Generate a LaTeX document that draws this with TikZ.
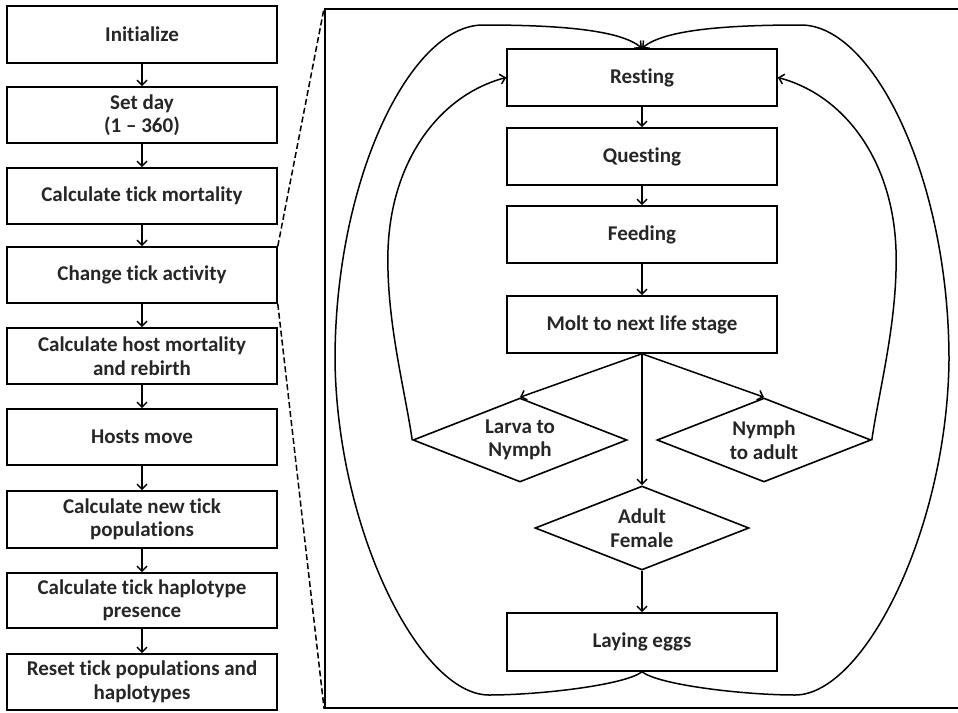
\documentclass[tikz,border=0pt]{standalone}
\usepackage{fontspec}
\setmainfont[Ligatures=NoCommon]{Carlito}
\usetikzlibrary{arrows.meta,shapes.geometric}
\begin{document}
\begin{tikzpicture}[x=1pt,y=-1pt,
  txt/.style={font=\fontsize{21}{23.5}\selectfont\bfseries, text=black!85},
  box/.style={txt, draw, line width=1.6pt, minimum width=270pt, inner sep=0pt, align=center},
  dia/.style={txt, draw, diamond, line width=1.6pt, minimum width=214pt, minimum height=84pt, inner sep=0pt, aspect=2.55, align=center},
  arr/.style={line width=1.5pt, -{Straight Barb[length=5pt,width=10pt]}},
  loop/.style={line width=1.5pt, -{Straight Barb[length=5pt,width=10pt]}},
  ]
\useasboundingbox (0,0) rectangle (958,712);
% left column
\node[box, minimum height=57pt] (b1) at (142,34.5) {Initialize};
\node[box, minimum height=56pt] (b2) at (142,115) {Set day\\(1 – 360)};
\node[box, minimum height=56pt] (b3) at (142,196) {Calculate tick mortality};
\node[box, minimum height=56pt] (b4) at (142,275) {Change tick activity};
\node[box, minimum height=56pt] (b5) at (142,356) {Calculate host mortality\\and rebirth};
\node[box, minimum height=56pt] (b6) at (142,437) {Hosts move};
\node[box, minimum height=57pt] (b7) at (142,519.5) {Calculate new tick\\populations};
\node[box, minimum height=55pt] (b8) at (142,600.5) {Calculate tick haplotype\\presence};
\node[box, minimum height=56pt] (b9) at (142,682) {Reset tick populations and\\haplotypes};
\foreach \a/\b in {b1/b2,b2/b3,b3/b4,b4/b5,b5/b6,b6/b7,b7/b8,b8/b9}
  \draw[arr] (\a.south) -- (\b.north);
% frame
\node[draw, line width=1.8pt, minimum width=645pt, minimum height=699pt, inner sep=0pt] (frame) at (647.5,358.5) {};
\draw[line width=1.5pt, dash pattern=on 6pt off 3pt] (b4.north east) -- (frame.north west);
\draw[line width=1.5pt, dash pattern=on 6pt off 3pt] (b4.south east) -- (frame.south west);
% right panel
\node[box, minimum height=57pt] (rest) at (642,77.5) {Resting};
\node[box, minimum height=57pt] (quest) at (642,156.5) {Questing};
\node[box, minimum height=57pt] (feed) at (642,234.5) {Feeding};
\node[box, minimum height=57pt] (molt) at (642,324.5) {Molt to next life stage};
\node[dia] (larva) at (520,440) {Larva to\\Nymph};
\node[dia] (nymph) at (764,440) {Nymph\\to adult};
\node[dia] (adult) at (642,528) {Adult\\Female};
\node[box, minimum height=58pt] (eggs) at (642,642) {Laying eggs};
\draw[arr] (rest.south) -- (quest.north);
\draw[arr] (quest.south) -- (feed.north);
\draw[arr] (feed.south) -- (molt.north);
\draw[arr] (molt.south) -- (larva.north);
\draw[arr] (molt.south) -- (nymph.north);
\draw[arr] (molt.south) -- (adult.north);
\draw[arr] (adult.south) -- (eggs.north);
% inner loops
\draw[loop] (larva.west) .. controls (405,390) and (386,320) .. (388,250)
  .. controls (391,160) and (440,95) .. (rest.west);
\draw[loop] (nymph.east) .. controls (879,390) and (898,320) .. (896,250)
  .. controls (893,160) and (844,95) .. (rest.east);
% outer loops
\draw[loop] (eggs.south) .. controls (625,685) and (540,695) .. (489,695)
  .. controls (420,695) and (337,530) .. (335,360)
  .. controls (335,180) and (410,25) .. (483,25)
  .. controls (560,25) and (620,30) .. (rest.north);
\draw[loop] (eggs.south) .. controls (659,685) and (744,695) .. (795,695)
  .. controls (864,695) and (947,530) .. (949,360)
  .. controls (949,180) and (874,25) .. (801,25)
  .. controls (724,25) and (664,30) .. (rest.north);
\end{tikzpicture}
\end{document}
